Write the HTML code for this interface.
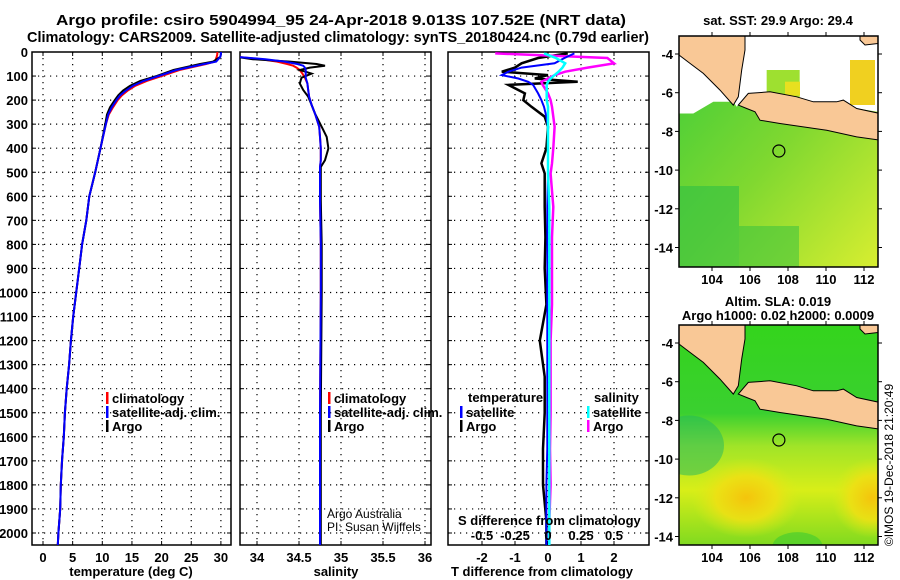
<!DOCTYPE html>
<html><head><meta charset="utf-8"><style>
body{margin:0;background:#fff;}
svg{display:block;font-family:"Liberation Sans",sans-serif;}
.b{font-weight:bold;font-size:13px;}
</style></head><body>
<svg id="fig" width="900" height="580" viewBox="0 0 900 580">
<text class="b" x="341" y="25" text-anchor="middle" style="font-size:15px" textLength="570" lengthAdjust="spacingAndGlyphs">Argo profile: csiro 5904994_95 24-Apr-2018 9.013S 107.52E (NRT data)</text>
<text class="b" x="338" y="42" text-anchor="middle" style="font-size:15px" textLength="622" lengthAdjust="spacingAndGlyphs">Climatology: CARS2009. Satellite-adjusted climatology: synTS_20180424.nc (0.79d earlier)</text>
<g id="panels"></g>
<g id="maps"></g>
<text x="893" y="465" transform="rotate(-90 893 465)" text-anchor="middle" font-size="12">©IMOS 19-Dec-2018 21:20:49</text>
</svg>
<script>
// ---------- data ----------
const depthTicks=[0,100,200,300,400,500,600,700,800,900,1000,1100,1200,1300,1400,1500,1600,1700,1800,1900,2000];
const tTicks=[0,5,10,15,20,25,30];
const sTicks=[34,34.5,35,35.5,36];
const sTickLabels=["34","34.5","35","35.5","36"];
const dTTicks=[-2,-1,0,1,2];
const dSTicks=[-0.5,-0.25,0,0.25,0.5];
const dSTickLabels=["-0.5","-0.25","0","0.25","0.5"];

const tDepth=[0,10,20,40,50,75,100,120,140,160,180,200,230,260,300,400,500,600,700,800,900,1000,1100,1200,1300,1400,1500,1600,1700,1800,1900,2000,2050];
const tArgo=[30,30,29.9,28.7,26.5,22,19.2,16.4,14.7,13.5,12.7,12.1,11.3,10.8,10.5,9.7,8.8,7.8,7.3,6.6,6.1,5.6,5.1,4.7,4.4,4.0,3.7,3.5,3.2,3.0,2.9,2.6,2.5];
const tClim=[29.4,29.4,29.3,29.0,27.5,23,20.0,17.5,15.6,14.3,13.3,12.6,11.8,11.1,10.6,9.7,8.8,7.8,7.3,6.6,6.1,5.6,5.1,4.7,4.4,4.0,3.7,3.5,3.2,3.0,2.9,2.6,2.5];
const tSat=[30,30,29.9,29.2,27.2,22.5,19.5,17.0,15.2,14.0,13.0,12.4,11.6,11.0,10.6,9.7,8.8,7.8,7.3,6.6,6.1,5.6,5.1,4.7,4.4,4.0,3.7,3.5,3.2,3.0,2.9,2.6,2.5];

const sDepth=[20,30,40,50,57,65,75,90,107,131,158,186,220,256,311,353,401,450,478,617,800,1000,1500,2000,2050];
const sArgo=[33.75,33.95,34.39,34.71,34.81,34.63,34.51,34.65,34.53,34.51,34.55,34.61,34.65,34.69,34.77,34.83,34.85,34.81,34.76,34.76,34.77,34.77,34.76,34.76,34.76];
const sClim=[33.75,34.05,34.24,34.36,34.43,34.47,34.51,34.54,34.57,34.6,34.61,34.62,34.65,34.69,34.74,34.75,34.76,34.76,34.75,34.75,34.76,34.76,34.75,34.75,34.75];
const sSat=[33.75,34.1,34.33,34.48,34.55,34.57,34.58,34.58,34.58,34.6,34.61,34.62,34.65,34.69,34.74,34.75,34.76,34.76,34.75,34.75,34.76,34.76,34.75,34.75,34.75];

const dDepth=[6,25,47,65,82,96,110,124,137,172,200,228,269,311,400,463,505,644,770,900,1050,1200,1250,1350,1500,1650,1800,1950,2050];
const dTArgo=[0.6,-0.3,-0.8,-1.0,-1.4,0,-0.4,0.9,-1.2,-0.7,-0.75,-0.5,-0.1,0,-0.05,-0.2,-0.1,-0.1,-0.08,-0.1,-0.05,-0.25,-0.2,-0.1,-0.1,-0.15,-0.15,-0.05,-0.05];
const dTSat=[0.8,0.5,0.2,-0.8,-1.2,-1.4,-0.9,-0.6,-0.45,-0.3,-0.2,-0.12,-0.05,0,0,0,0,-0.02,-0.02,-0.02,-0.02,-0.02,-0.02,-0.02,-0.02,-0.02,-0.05,-0.05,-0.05];
const dSArgo=[-0.4,0.45,0.5,0.3,0.13,0.05,0.0,-0.05,-0.04,0,0.02,0.03,0.04,0.05,0.04,0.03,0.02,0.04,0.03,0.03,0.03,0.02,0.02,0.02,0.02,0.015,0.02,0.01,0.01];
const dSSat=[-0.03,0.06,0.13,0.11,0.08,0.05,0.02,0,-0.01,-0.01,-0.01,0,0,0,0,0,0,0.01,0.01,0.01,0.01,0.01,0.01,0.01,0.01,0.01,0.01,0.01,0.01];

// ---------- helpers ----------
const NS="http://www.w3.org/2000/svg";
function mk(tag,attrs,parent,txt){const e=document.createElementNS(NS,tag);for(const k in attrs)e.setAttribute(k,attrs[k]);if(txt!==undefined)e.textContent=txt;parent.appendChild(e);return e;}
const yD=d=>52+d*0.2405;
const PT=document.getElementById('panels');
const top0=52,bot0=545;

function panel(name,x0,x1,xf,ticks,labels,xlabel,xlabelX){
  const g=mk('g',{},PT);
  
  
  depthTicks.forEach(d=>{ if(d>0) mk('line',{x1:x0,x2:x1,y1:yD(d),y2:yD(d),stroke:'#000','stroke-dasharray':'1.2 4.8','stroke-width':1.2},g);
    mk('line',{x1:x0,x2:x0+4,y1:yD(d),y2:yD(d),stroke:'#000'},g); mk('line',{x1:x1-4,x2:x1,y1:yD(d),y2:yD(d),stroke:'#000'},g);});
  ticks.forEach((t,i)=>{const x=xf(t);
    mk('line',{x1:x,x2:x,y1:top0,y2:bot0,stroke:'#000','stroke-dasharray':'1.2 4.8','stroke-width':1.2},g);
    mk('line',{x1:x,x2:x,y1:bot0-4,y2:bot0,stroke:'#000'},g);mk('line',{x1:x,x2:x,y1:top0,y2:top0+4,stroke:'#000'},g);
    const t1=mk('text',{x:x,y:562,'text-anchor':'middle',class:'b'},g,labels[i]);
    
    
  });
  mk('rect',{x:x0,y:top0,width:x1-x0,height:bot0-top0,fill:'none',stroke:'#000','stroke-width':1.5},g);
  const xl=mk('text',{x:xlabelX,y:576,'text-anchor':'middle',class:'b'},g,xlabel);
  
  
  return g;
}
function line(g,name,xs,ds,xf,color,w){
  let clip=g.getAttribute('data-clip');
  const p=mk('polyline',{points:xs.map((v,i)=>xf(v).toFixed(1)+','+yD(ds[i]).toFixed(1)).join(' '),fill:'none',stroke:color,'stroke-width':w||2,'clip-path':'url(#'+clip+')'},g);
  
  
}
const defs=mk('defs',{},PT);
function clipRect(id,x0,x1){const c=mk('clipPath',{id:id},defs);mk('rect',{x:x0,y:top0,width:x1-x0,height:bot0-top0},c);}
function legendItem(g,x,y,color,label){
  mk('rect',{x:x,y:y-11,width:2.5,height:12,fill:color},g);
  const t=mk('text',{x:x+6,y:y,class:'b'},g,label);
  
  
}

depthTicks.forEach(d=>{const t=mk('text',{x:28,y:yD(d)+5,'text-anchor':'end',class:'b'},PT,String(d));
  
  });

const xT=t=>43+t*5.93;
const g1=panel('temperature-panel',32,231,xT,tTicks,tTicks.map(String),'temperature (deg C)',131);
clipRect('c1',32,231);g1.setAttribute('data-clip','c1');
line(g1,'temp-climatology-line',tClim,tDepth,xT,'#f00');
line(g1,'temp-argo-line',tArgo,tDepth,xT,'#000');
line(g1,'temp-satellite-line',tSat,tDepth,xT,'#00f');
legendItem(g1,106,403,'#f00','climatology');
legendItem(g1,106,417,'#00f','satellite-adj. clim.');
legendItem(g1,106,431,'#000','Argo');

const xS=s=>257+(s-34)*84;
const g2=panel('salinity-panel',240,431,xS,sTicks,sTickLabels,'salinity',336);
clipRect('c2',240,431);g2.setAttribute('data-clip','c2');
line(g2,'sal-climatology-line',sClim,sDepth,xS,'#f00');
line(g2,'sal-argo-line',sArgo,sDepth,xS,'#000');
line(g2,'sal-satellite-line',sSat,sDepth,xS,'#00f');
legendItem(g2,328,403,'#f00','climatology');
legendItem(g2,328,417,'#00f','satellite-adj. clim.');
legendItem(g2,328,431,'#000','Argo');
mk('text',{x:327,y:518,'font-size':12},g2,'Argo Australia');
mk('text',{x:327,y:531,'font-size':12},g2,'PI: Susan Wijffels');

const xDT=d=>548+d*33;
const xDS=s=>548+s*132;
const g3=panel('difference-panel',448,649,xDT,dTTicks,dTTicks.map(String),'T difference from climatology',542);
clipRect('c3',448,649);g3.setAttribute('data-clip','c3');
line(g3,'tdiff-argo-line',dTArgo,dDepth,xDT,'#000',2.5);
line(g3,'sdiff-argo-line',dSArgo,dDepth,xDS,'#f0f',2.5);
line(g3,'tdiff-satellite-line',dTSat,dDepth,xDT,'#00f',2);
line(g3,'sdiff-satellite-line',dSSat,dDepth,xDS,'#0ff',2.5);
mk('text',{x:468,y:402,class:'b'},g3,'temperature');
legendItem(g3,460,417,'#00f','satellite');
legendItem(g3,460,431,'#000','Argo');
mk('text',{x:594,y:402,class:'b'},g3,'salinity');
legendItem(g3,587,417,'#0ff','satellite');
legendItem(g3,587,431,'#f0f','Argo');
mk('text',{x:458,y:525,class:'b'},g3,'S difference from climatology');
dSTicks.forEach((s,i)=>{const t=mk('text',{x:xDS(s),y:540,'text-anchor':'middle',class:'b'},g3,dSTickLabels[i]);
  
  });

// ---------- maps ----------
const MG=document.getElementById('maps');
const lonTicks=[104,106,108,110,112];
const latTicks=[-4,-6,-8,-10,-12,-14];
const argoLon=107.52, argoLat=-9.013;
function drawMap(name,y0,y1,kind){
  const x0=679,x1=878;
  const g=mk('g',{},MG);
  
  
  const lx=l=>712+(l-104)*19;
  const la=a=>y0+18+(-4-a)*19.35*( (y1-y0)/ (kind==='sst'?231:220) );
  const zp=(zx,zy)=>{
    const px=670+zx/3, py=30+zy/3; const lat=-4-(py-54)/19.3; const lon=104+(px-712)/19;
    return lx(lon).toFixed(1)+','+la(lat).toFixed(1);};
  const cid='mc'+kind;const c=mk('clipPath',{id:cid},defs);mk('rect',{x:x0,y:y0,width:x1-x0,height:y1-y0},c);
  const inner=mk('g',{'clip-path':'url(#'+cid+')'},g);
  const gid='mg'+kind;
  if(kind==='sst'){
    const lg=mk('linearGradient',{id:gid,x1:0,y1:0,x2:1,y2:1},defs);
    mk('stop',{offset:'0','stop-color':'#3ccc3a'},lg);mk('stop',{offset:'0.5','stop-color':'#80d830'},lg);mk('stop',{offset:'1','stop-color':'#d8ee30'},lg);
    mk('rect',{x:x0,y:y0,width:x1-x0,height:y1-y0,fill:'url(#'+gid+')'},inner);
    mk('rect',{x:x0,y:y0+150,width:60,height:y1-y0-150,fill:'#2fbf45',opacity:0.6},inner);
    mk('rect',{x:x0+60,y:y0+190,width:60,height:y1-y0-190,fill:'#30c040',opacity:0.5},inner);
    mk('polygon',{points:[[27,75],[27,250],[70,250],[130,215],[190,215],[200,230],[235,190],[300,185],[380,200],[430,215],[500,215],[520,210],[560,235],[623,245],[623,0],[27,0]].map(p=>zp(p[0],p[1])).join(' '),fill:'#fff'},inner);
    mk('rect',{x:670+290/3,y:30+120/3,width:33,height:27,fill:'#9ee030'},inner);
    mk('rect',{x:670+345/3,y:30+155/3,width:15,height:14,fill:'#e8e020'},inner);
    mk('rect',{x:670+540/3,y:30+90/3,width:25,height:45,fill:'#f0d020'},inner);
  } else {
    const lg=mk('linearGradient',{id:gid+'c',x1:0,y1:0,x2:0,y2:1},defs);
    mk('stop',{offset:'0','stop-color':'#34d41c'},lg);mk('stop',{offset:'0.4','stop-color':'#3ad030'},lg);mk('stop',{offset:'0.55','stop-color':'#a0e428'},lg);mk('stop',{offset:'0.75','stop-color':'#d8ee18'},lg);mk('stop',{offset:'1','stop-color':'#80da20'},lg);
    mk('rect',{x:x0,y:y0,width:x1-x0,height:y1-y0,fill:'url(#'+gid+'c)'},inner);
    const rg=mk('radialGradient',{id:gid,cx:0.5,cy:0.5,r:0.5},defs);
    mk('stop',{offset:'0','stop-color':'#f4c40c'},rg);mk('stop',{offset:'0.55','stop-color':'#eee014','stop-opacity':0.9},rg);mk('stop',{offset:'1','stop-color':'#d8ec18','stop-opacity':0},rg);
    mk('ellipse',{cx:lx(105.8),cy:la(-12),rx:55,ry:40,fill:'url(#'+gid+')'},inner);
    mk('ellipse',{cx:lx(112.4),cy:la(-12),rx:40,ry:40,fill:'url(#'+gid+')'},inner);
    mk('ellipse',{cx:x0+10,cy:la(-9.3),rx:35,ry:30,fill:'#20b860',opacity:0.5},inner);
    mk('ellipse',{cx:lx(108.5),cy:la(-14.5),rx:25,ry:14,fill:'#40cc30',opacity:0.6},inner);
  }
  const land='#f9c896';
  mk('polygon',{points:[[27,0],[225,0],[225,60],[215,120],[205,200],[190,225],[150,180],[100,130],[60,100],[27,75]].map(p=>zp(p[0],p[1])).join(' '),fill:land,stroke:'#000','stroke-width':1},inner);
  mk('polygon',{points:[[235,190],[300,185],[380,200],[430,215],[500,215],[520,210],[560,235],[630,250],[630,330],[560,320],[470,300],[400,290],[330,280],[270,270],[255,245],[230,235],[205,225]].map(p=>zp(p[0],p[1])).join(' '),fill:land,stroke:'#000','stroke-width':1},inner);
  mk('polygon',{points:[[570,0],[630,0],[630,40],[585,45],[570,30]].map(p=>zp(p[0],p[1])).join(' '),fill:land,stroke:'#000','stroke-width':1},inner);
  const circ=mk('circle',{cx:lx(argoLon),cy:la(argoLat),r:6,fill:'none',stroke:'#000','stroke-width':1.2},g);
  
  
  mk('rect',{x:x0,y:y0,width:x1-x0,height:y1-y0,fill:'none',stroke:'#000','stroke-width':1.5},g);
  lonTicks.forEach(l=>{const x=lx(l);mk('line',{x1:x,x2:x,y1:y0-4,y2:y0,stroke:'#000'},g);mk('line',{x1:x,x2:x,y1:y1,y2:y1+4,stroke:'#000'},g);
    const t=mk('text',{x:x,y:y1+17,'text-anchor':'middle',class:'b'},g,String(l));
    
    });
  latTicks.forEach(a=>{const y=la(a);mk('line',{x1:x1,x2:x1+4,y1:y,y2:y,stroke:'#000'},g);mk('line',{x1:x0-4,x2:x0,y1:y,y2:y,stroke:'#000'},g);
    const t=mk('text',{x:x0-6,y:y+5,'text-anchor':'end',class:'b'},g,String(a));
    
    });
}
drawMap('sst-map',36,267,'sst');
drawMap('sla-map',325,545,'sla');
mk('text',{x:778,y:25,'text-anchor':'middle',class:'b'},MG,'sat. SST: 29.9 Argo: 29.4');
mk('text',{x:778,y:306,'text-anchor':'middle',class:'b'},MG,'Altim. SLA: 0.019');
mk('text',{x:778,y:320,'text-anchor':'middle',class:'b'},MG,'Argo h1000: 0.02 h2000: 0.0009');
</script>
</body></html>
